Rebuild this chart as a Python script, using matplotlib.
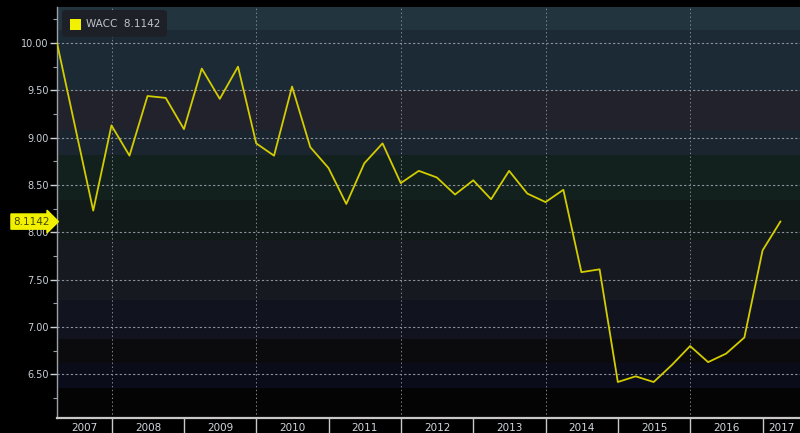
import matplotlib
matplotlib.use("Agg")
import matplotlib.pyplot as plt
from matplotlib.patches import FancyBboxPatch, Rectangle
import pandas as pd
import numpy as np

# Quarterly WACC readings (quarter-end dates)
quarters = ["2007-03-31", "2007-06-30", "2007-09-30", "2007-12-31",
            "2008-03-31", "2008-06-30", "2008-09-30", "2008-12-31",
            "2009-03-31", "2009-06-30", "2009-09-30", "2009-12-31",
            "2010-03-31", "2010-06-30", "2010-09-30", "2010-12-31",
            "2011-03-31", "2011-06-30", "2011-09-30", "2011-12-31",
            "2012-03-31", "2012-06-30", "2012-09-30", "2012-12-31",
            "2013-03-31", "2013-06-30", "2013-09-30", "2013-12-31",
            "2014-03-31", "2014-06-30", "2014-09-30", "2014-12-31",
            "2015-03-31", "2015-06-30", "2015-09-30", "2015-12-31",
            "2016-03-31", "2016-06-30", "2016-09-30", "2016-12-31",
            "2017-03-31"]
wacc = [10.00, 9.12, 8.23, 9.13,
        8.81, 9.44, 9.42, 9.09,
        9.73, 9.41, 9.75, 8.94,
        8.81, 9.54, 8.90, 8.68,
        8.30, 8.73, 8.94, 8.52,
        8.65, 8.58, 8.40, 8.55,
        8.35, 8.65, 8.41, 8.32,
        8.45, 7.58, 7.61, 6.42,
        6.48, 6.42, 6.60, 6.80,
        6.63, 6.72, 6.89, 7.81,
        8.1142]
last_value = "8.1142"
years = list(range(2007, 2018))
y_ticks = [6.50, 7.00, 7.50, 8.00, 8.50, 9.00, 9.50, 10.00]

# background bands (value ranges, colour)
band_edges = [6.04, 6.36, 6.62, 6.87, 7.29, 7.92, 8.34, 8.82, 9.08, 9.50, 10.14, 10.40]
band_colors = ["#040404", "#0a0c19", "#0b0b0d", "#11141e", "#16191f", "#121a19",
               "#12201e", "#1b2530", "#22222d", "#1b2a35", "#22343e"]

dates = pd.to_datetime(quarters)

W, H = 800, 433
fig = plt.figure(figsize=(W / 100, H / 100), dpi=100)
fig.patch.set_facecolor("black")
ax = fig.add_axes([57 / W, 1 - 418 / H, 1 - 57 / W, 411 / H])
ax.set_facecolor("black")

for lo, hi, c in zip(band_edges[:-1], band_edges[1:], band_colors):
    ax.axhspan(lo, hi, color=c, zorder=0, lw=0)

xmin = pd.Timestamp("2007-03-31")
xmax = pd.Timestamp("2017-07-08")
ax.set_xlim(xmin, xmax)
ax.set_ylim(6.04, 10.38)

# grid lines
for v in y_ticks:
    ax.axhline(v, color="#8c939b", lw=0.8, ls=(0, (2, 2)), zorder=1)
for yr in range(2008, 2017, 2):
    ax.axvline(pd.Timestamp(f"{yr}-01-01"), color="#7d858d", lw=0.7, ls=(0, (1.5, 2.5)), zorder=1)

ax.plot(dates, wacc, color="#d2cc00", lw=1.3, zorder=3)

# axes styling
for s in ["top", "right"]:
    ax.spines[s].set_visible(False)
ax.spines["left"].set_color("#9aa0a6")
ax.spines["left"].set_linewidth(1.0)
ax.spines["bottom"].set_color("#c8c8c8")
ax.spines["bottom"].set_linewidth(1.6)

ax.set_yticks(y_ticks)
ax.set_yticklabels([f"{v:.2f}" for v in y_ticks])
ax.set_yticks(np.arange(6.25, 10.3, 0.5), minor=True)
ax.tick_params(axis="y", which="major", colors="#c8d0d8", labelsize=7, length=5, width=1.0,
               labelcolor="#c8d0d8", pad=1)
ax.tick_params(axis="y", which="minor", colors="#9aa0a6", length=3, width=0.8)

# year separators as long ticks, labels centred in visible part of each year
ax.set_xticks([pd.Timestamp(f"{y}-01-01") for y in years[1:]])
ax.set_xticklabels([])
ax.tick_params(axis="x", which="major", colors="#c8c8c8", length=16, width=1.0, direction="out")
for y in years:
    a = max(pd.Timestamp(f"{y}-01-01"), xmin)
    b = min(pd.Timestamp(f"{y + 1}-01-01"), xmax)
    mid = a + (b - a) / 2
    ax.text(mid, -0.012, str(y), transform=ax.get_xaxis_transform(), ha="center", va="top",
            fontsize=7.5, color="#d0d8e0", clip_on=False)

# last value marker on the y axis
ax.annotate(last_value, xy=(0, wacc[-1]), xycoords=("axes fraction", "data"),
            xytext=(-5, 0), textcoords="offset points", ha="right", va="center",
            fontsize=7.5, color="#4a4800",
            bbox=dict(boxstyle="rarrow,pad=0.25", fc="#f0f000", ec="#f0f000"), zorder=10,
            annotation_clip=False)

# legend box (figure pixel layout)
fig.patches.append(FancyBboxPatch((62 / W, 1 - 37 / H), 105 / W, 27 / H,
                                  boxstyle="round,pad=0,rounding_size=0.006",
                                  transform=fig.transFigure, fc="#1d2127", ec="none", zorder=6))
fig.patches.append(Rectangle((70 / W, 1 - 30 / H), 11 / W, 11 / H, transform=fig.transFigure,
                             fc="#f2f200", ec="none", zorder=7))
fig.text(86 / W, 1 - 24 / H, "WACC  " + last_value, ha="left", va="center",
         fontsize=7.5, color="#c0c4c8", zorder=8)

fig.savefig("out.png", dpi=100, facecolor="black")
